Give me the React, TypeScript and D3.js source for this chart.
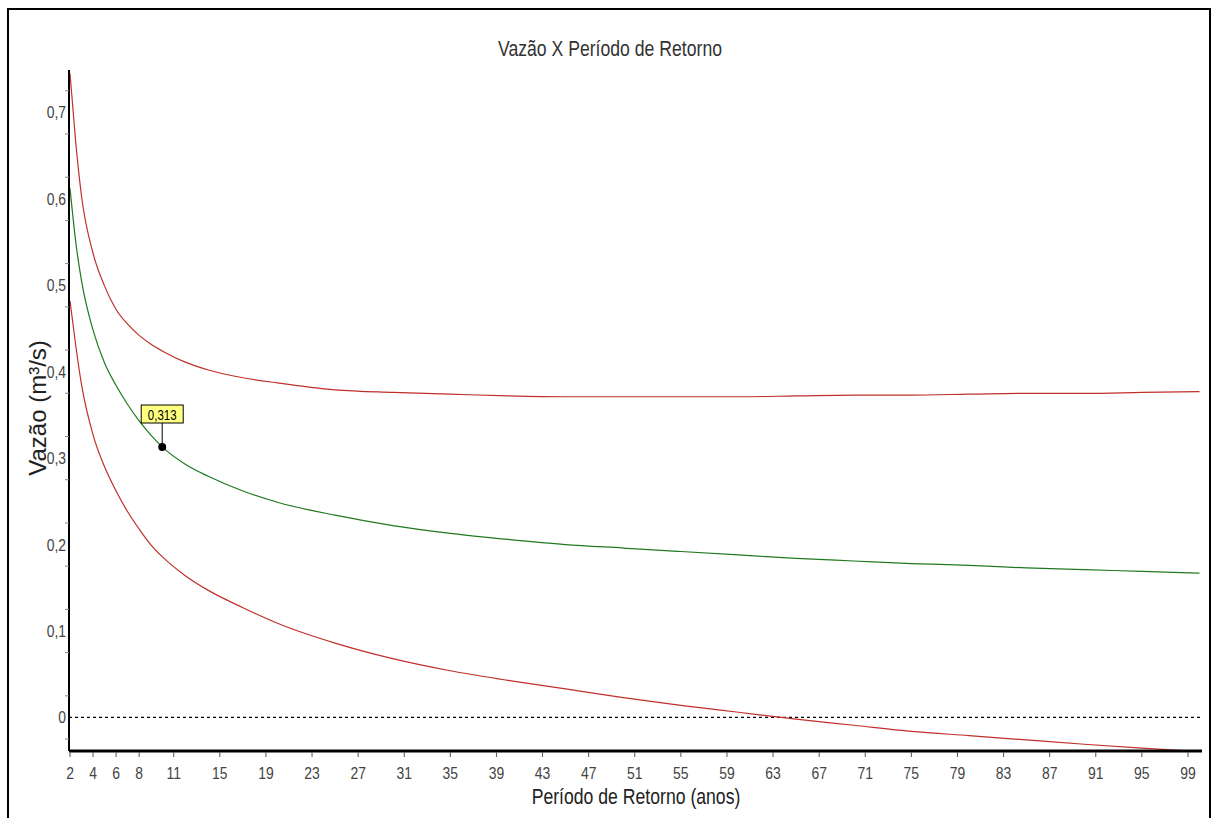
import React from "react";
import * as d3 from "d3";

// return periods (years) used for the curves
const periods = [2, 2.5, 3, 4, 5, 6, 7, 8, 9, 10, 12, 14, 17, 20, 25, 30, 35, 40, 45, 50, 55, 60, 65, 70, 75, 80, 85, 90, 95, 100];

// central estimate (green)
const vazao = [0.612, 0.55, 0.505, 0.448, 0.41, 0.384, 0.362, 0.343, 0.327, 0.313, 0.293, 0.279, 0.262, 0.249, 0.234, 0.222, 0.213, 0.206, 0.2, 0.196, 0.192, 0.188, 0.184, 0.181, 0.178, 0.176, 0.173, 0.171, 0.169, 0.167];

// upper confidence limit (red)
const limiteSup = [0.745, 0.665, 0.603, 0.537, 0.499, 0.472, 0.455, 0.442, 0.432, 0.424, 0.411, 0.402, 0.393, 0.387, 0.379, 0.376, 0.374, 0.372, 0.371, 0.371, 0.371, 0.371, 0.372, 0.373, 0.373, 0.374, 0.375, 0.375, 0.376, 0.377];

// lower confidence limit (red)
const limiteInf = [0.482, 0.43, 0.385, 0.327, 0.29, 0.262, 0.238, 0.218, 0.2, 0.186, 0.164, 0.147, 0.127, 0.109, 0.086, 0.068, 0.054, 0.043, 0.033, 0.023, 0.014, 0.006, -0.002, -0.009, -0.016, -0.021, -0.026, -0.031, -0.0355, -0.0395];

const xTicks = [2, 4, 6, 8, 11, 15, 19, 23, 27, 31, 35, 39, 43, 47, 51, 55, 59, 63, 67, 71, 75, 79, 83, 87, 91, 95, 99];
const yTicks = [0, 0.1, 0.2, 0.3, 0.4, 0.5, 0.6, 0.7];
const yMinorTicks = [-0.025, 0.025, 0.075, 0.125, 0.175, 0.225, 0.275, 0.325, 0.375, 0.425, 0.475, 0.525, 0.575, 0.625, 0.675, 0.725];

const destaque = { periodo: 10, valor: 0.313 };

const W = 1214;
const H = 818;
const FONT = "'Liberation Sans', Arial, sans-serif";
const NARROW = 0.82;

// condensed text (Arial Narrow look-alike)
const NText = ({ x, y, size, anchor = "middle", fill = "#333", children, dy }: any) => (
  <text
    transform={`translate(${x},${y}) scale(${NARROW},1)`}
    textAnchor={anchor}
    fontSize={size}
    fill={fill}
    dy={dy}
  >
    {children}
  </text>
);

const App = () => {
  const x = d3.scaleLinear().domain([2, 100]).range([70, 1199.5]);
  const y = d3.scaleLinear().domain([-0.0388, 0.749]).range([751, 70]);

  const line = d3
    .line<number>()
    .x((_, i) => x(periods[i]))
    .y((d) => y(d))
    .curve(d3.curveMonotoneX);

  const fmt = (v: number) => (v === 0 ? "0" : d3.format(".1f")(v).replace(".", ","));

  const px = x(destaque.periodo);
  const py = y(destaque.valor);

  return (
    <svg
      width={W}
      height={H}
      style={{ position: "absolute", left: 0, top: 0, display: "block", background: "#fff" }}
      fontFamily={FONT}
    >
      <defs>
        <clipPath id="plot">
          <rect x={69} y={68} width={1134} height={682} />
        </clipPath>
      </defs>

      {/* outer frame */}
      <rect x={8} y={9} width={1202} height={830} fill="none" stroke="#000" strokeWidth={2} />

      {/* title */}
      <NText x={610} y={56} size={21.5} fill="#333">
        Vazão X Período de Retorno
      </NText>

      {/* zero line */}
      <line x1={69} x2={1200} y1={y(0)} y2={y(0)} stroke="#000" strokeWidth={1.2} strokeDasharray="3,3" />

      {/* curves */}
      <g clipPath="url(#plot)" fill="none" strokeWidth={1.2}>
        <path d={line(limiteSup) ?? ""} stroke="#c0302a" />
        <path d={line(limiteInf) ?? ""} stroke="#c0302a" />
        <path d={line(vazao) ?? ""} stroke="#1f7a1f" />
      </g>

      {/* y axis */}
      <line x1={69} x2={69} y1={70} y2={751} stroke="#000" strokeWidth={2} />
      {yMinorTicks.map((t) => (
        <line key={t} x1={65} x2={69} y1={y(t)} y2={y(t)} stroke="#888" strokeWidth={1} />
      ))}
      {yTicks.map((t) => (
        <NText key={t} x={66} y={y(t)} dy="0.35em" anchor="end" size={17} fill="#444">
          {fmt(t)}
        </NText>
      ))}
      <text
        transform="translate(46,408) rotate(-90)"
        textAnchor="middle"
        fontSize={24}
        fill="#222"
      >
        Vazão (m³/s)
      </text>

      {/* x axis */}
      <line x1={69} x2={1202} y1={751} y2={751} stroke="#000" strokeWidth={3} />
      {xTicks.map((t) => (
        <g key={t}>
          <line x1={x(t)} x2={x(t)} y1={752} y2={757} stroke="#555" strokeWidth={1} />
          <NText x={x(t)} y={779} size={17} fill="#444">
            {t}
          </NText>
        </g>
      ))}
      <NText x={636} y={804} size={21.5} fill="#222">
        Período de Retorno (anos)
      </NText>

      {/* highlighted point */}
      <line x1={px} x2={px} y1={423} y2={py} stroke="#000" strokeWidth={1} />
      <circle cx={px} cy={py} r={4} fill="#000" />
      <rect x={px - 21} y={405} width={42} height={18} fill="#ffff80" stroke="#000" strokeWidth={1} />
      <NText x={px} y={419.5} size={14} fill="#000">
        {d3.format(".3f")(destaque.valor).replace(".", ",")}
      </NText>
    </svg>
  );
};

export default App;
